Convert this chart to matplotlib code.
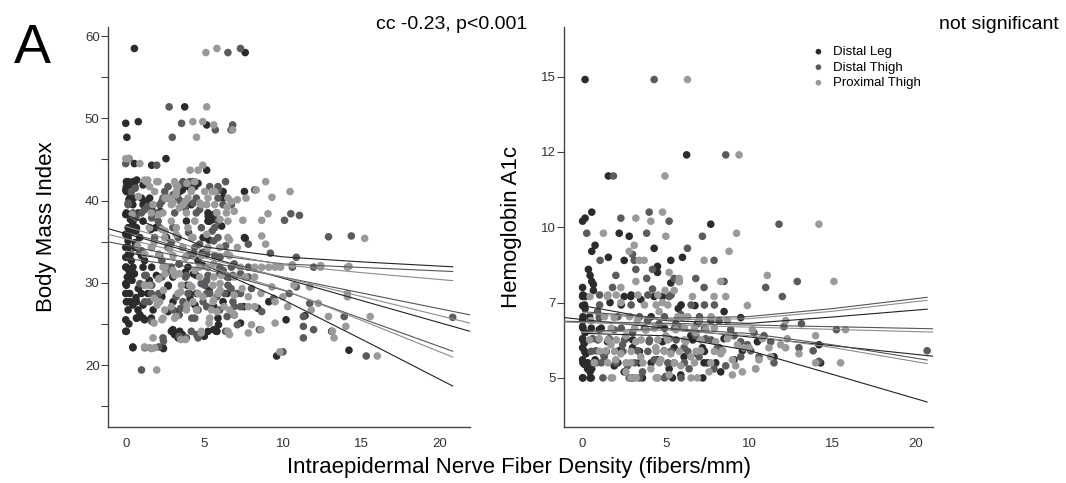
import numpy as np
import matplotlib.pyplot as plt

plt.rcParams['font.family'] = ['Liberation Sans', 'DejaVu Sans']

sites = ['Distal Leg', 'Distal Thigh', 'Proximal Thigh']
site_colors = ['#2b2b2b', '#5b5b5f', '#9a9a9a']

# ---- BMI panel (IENFD, BMI) ----
leg_ienfd_bmi = [0.55, 7.6, 3.75, 0.0, 0.8, 5.15, 0.07, 0.55, 1.65, 2.56, 5.15,
                 0.15, 0.55, 0.15, 0.0, 0.45, 0.0, 0.35, 0.45, 0.35, 0.65, 1.1, 1.3, 1.65, 1.9,
                 4.3, 4.6, 3.6, 5.25, 5.35, 5.6, 6.2, 7.55, 7.6,
                 0.0, 0.15, 0.0, 0.3, 0.0, 0.35, 0.0, 0.2, 0.55, 0.0, 0.1, 4.6, 1.2, 1.65, 3.0,
                 4.3, 6.0, 2.7, 7.55,
                 0.0, 0.3, 0.1, 0.45, 0.65, 1.0, 1.4, 2.7, 0.0, 0.2, 0.7, 1.2, 2.7, 3.0, 4.05,
                 4.5, 3.9, 6.45, 5.6, 9.1, 0.45, 2.4, 3.1, 5.0, 5.8, 5.9, 0.0, 9.6, 14.2,
                 0.2, 0.5, 0.8, 0.3, 0.6, 0.9, 0.4, 0.8, 1.1, 0.9, 1.5, 2.1, 2.3, 3.3, 3.6,
                 4.1, 5.3, 5.1, 5.3, 4.9, 6.6, 7.3, 6.9, 5.6, 2.2, 1.6, 2.6, 3.4, 3.8, 4.4,
                 4.9, 1.1, 0.7, 5.6, 6.1, 7.5, 8.4, 10.2, 13.1, 11.4,
                 0.04, 0.46, 1.1, 3.96, 0.25, 1.95, 4.49, 0.04, 2.69, 0.25, 2.27, 0.04, 0.68, 3.01,
                 6.19, 0.15, 0.78, 1.74, 0.68, 1.1, 1.63, 5.87, 0.04, 2.9, 3.43, 5.23, 5.77, 3.33,
                 0.46, 2.37,
                 0.04, 0.46, 0.04, 0.57, 3.96, 4.39, 0.04, 3.43, 6.19, 0.25, 1.0, 1.52, 1.21, 4.17,
                 0.04, 5.23, 0.46, 1.1, 3.86, 5.23, 0.15, 0.68, 0.15, 0.89, 4.92, 0.15, 0.57, 0.15,
                 1.0]
leg_bmi = [58.5, 58.0, 51.4, 49.4, 49.6, 49.2, 47.7, 44.5, 44.3, 45.1, 43.7,
           42.3, 42.3, 41.7, 41.3, 39.5, 38.3, 38.3, 37.1, 36.3, 36.3, 39.5, 39.9, 39.1, 36.7,
           42.3, 42.1, 41.3, 38.1, 37.5, 38.3, 40.3, 41.1, 35.4,
           35.9, 35.1, 34.3, 33.5, 33.1, 32.7, 31.9, 31.5, 31.1, 29.9, 30.7, 32.7, 32.7, 31.9, 30.7,
           31.1, 31.1, 34.3, 35.5,
           28.7, 27.7, 27.7, 27.3, 28.2, 28.7, 28.7, 29.6, 25.5, 25.0, 25.7, 25.5, 26.5, 24.3, 28.7,
           28.7, 29.7, 28.7, 27.1, 27.7, 22.2, 22.0, 23.7, 23.5, 24.1, 24.9, 24.1, 21.1, 21.8,
           40.1, 40.3, 38.5, 37.7, 34.9, 33.7, 30.3, 29.3, 27.3, 26.1, 30.3, 30.5, 28.3, 26.5, 23.7,
           28.1, 29.1, 35.5, 35.2, 33.7, 30.7, 25.1, 26.1, 24.3, 38.7, 36.5, 35.5, 32.3, 31.3, 27.3,
           32.1, 41.9, 42.5, 37.7, 36.9, 27.1, 26.9, 25.5, 24.1, 26.0,
           31.9, 31.9, 31.9, 31.9, 30.9, 30.9, 30.9, 29.7, 29.7, 28.7, 28.7, 27.7, 27.7, 27.7,
           27.7, 26.7, 26.7, 26.7, 25.7, 25.7, 25.7, 25.7, 24.1, 24.1, 24.1, 24.1, 24.1, 23.3,
           22.1, 22.1,
           42.3, 42.3, 41.7, 41.7, 41.7, 41.7, 41.1, 41.1, 41.1, 40.3, 40.3, 40.3, 39.5, 39.5,
           38.5, 38.5, 37.5, 37.5, 37.5, 37.5, 36.7, 36.7, 35.5, 35.5, 35.5, 34.3, 34.3, 33.3,
           33.3]

dthigh_ienfd_bmi = [7.3, 6.5, 2.76, 3.55, 5.7, 6.8, 6.7, 2.96, 0.0, 1.97,
                    0.6, 0.15, 0.65, 1.4, 1.2, 1.65, 1.97, 3.0, 2.3, 2.7, 3.6, 3.5, 3.8, 4.3,
                    5.9, 6.35, 8.2, 10.5, 11.05, 10.1,
                    1.0, 1.65, 2.3, 3.4, 4.3, 5.15, 6.0, 6.9, 7.8, 10.6, 11.95, 2.3, 3.8, 5.15,
                    6.45, 7.3, 7.8, 4.7, 5.6, 6.35, 7.8, 9.2, 10.85,
                    2.1, 1.65, 1.65, 3.4, 3.5, 5.15, 7.3, 5.15, 6.45, 6.9, 7.3, 8.65, 10.4, 10.85,
                    2.1, 2.4, 3.4, 4.5, 6.35, 1.0, 10.0, 11.3, 11.3, 11.3, 11.95, 13.9, 15.3, 20.8,
                    11.7, 12.9, 14.35,
                    2.9, 4.0, 5.5, 6.2, 8.0, 4.8, 3.2, 2.6, 1.3, 0.9, 1.5, 5.8, 6.7, 4.2, 7.1,
                    8.5, 9.4, 3.0, 4.7, 0.2,
                    2.9, 5.98, 6.72, 1.21, 3.86, 5.23, 6.82, 1.21, 5.02, 6.5, 1.63, 3.96, 5.34, 6.29,
                    7.04, 1.21, 3.64, 4.92, 6.82, 3.01, 4.6, 5.98, 4.39, 4.17, 2.37, 3.86, 4.6, 1.21,
                    3.64, 4.07, 2.69, 3.33, 5.34, 5.87, 0.36, 2.48, 2.37, 3.33, 4.49, 5.87, 0.15, 2.16,
                    6.19, 6.72, 0.46, 1.0, 3.11, 4.49, 5.77, 2.06, 5.87, 2.16, 4.81, 5.66, 1.84, 3.33,
                    5.87, 2.69, 4.39, 2.16, 3.96, 5.66]
dthigh_bmi = [58.5, 58.0, 51.4, 49.4, 48.6, 49.2, 48.6, 47.7, 44.5, 44.3,
              41.5, 39.7, 37.9, 39.3, 38.9, 37.9, 38.5, 36.7, 39.9, 40.3, 42.1, 39.9, 39.1, 39.7,
              41.3, 42.3, 41.3, 38.4, 38.2, 37.6,
              33.9, 34.3, 32.7, 32.3, 33.5, 33.5, 33.1, 32.3, 31.9, 31.9, 31.9, 30.7, 30.7, 30.3,
              30.7, 31.1, 30.7, 34.7, 35.1, 34.5, 34.7, 33.6, 33.1,
              28.7, 29.7, 25.3, 26.1, 26.9, 28.7, 28.7, 27.1, 25.9, 27.1, 27.1, 26.5, 28.7, 29.5,
              22.2, 22.9, 23.5, 23.7, 24.1, 19.4, 21.6, 25.9, 24.7, 23.3, 24.3, 25.9, 21.1, 25.8,
              27.5, 35.6, 35.7,
              34.9, 36.1, 36.3, 31.5, 29.3, 29.9, 28.3, 31.3, 30.9, 29.9, 27.7, 28.3, 29.3, 25.7, 24.9,
              24.3, 28.1, 40.7, 38.9, 45.1,
              31.9, 31.9, 31.9, 30.9, 30.9, 30.9, 30.9, 29.7, 29.7, 29.7, 28.7, 28.7, 28.7, 28.7,
              28.7, 27.7, 27.7, 27.7, 27.7, 26.7, 26.7, 26.7, 25.7, 24.1, 23.3, 23.3, 23.3, 22.1,
              42.3, 42.3, 41.7, 41.7, 41.7, 41.7, 41.1, 41.1, 40.3, 40.3, 40.3, 40.3, 39.5, 39.5,
              39.5, 39.5, 38.5, 38.5, 38.5, 38.5, 38.5, 37.5, 37.5, 36.7, 36.7, 36.7, 35.5, 35.5,
              35.5, 34.3, 34.3, 33.3, 33.3, 33.3]

pthigh_ienfd_bmi = [5.1, 5.8, 5.15, 4.27, 4.9, 5.6, 6.8, 4.5, 0.0, 0.15, 0.9, 4.1, 4.6, 4.9,
                    1.2, 1.4, 1.97, 3.2, 4.2, 2.5, 3.8, 2.3, 2.5, 3.0, 3.2, 3.3, 3.9, 3.4, 4.7,
                    5.15, 5.8, 5.5, 6.7, 7.1, 6.45, 6.9, 6.0, 7.65, 8.3, 8.9, 9.3, 9.05, 8.65,
                    7.45, 10.45, 2.1,
                    0.75, 1.2, 2.1, 2.5, 3.0, 3.8, 5.6, 6.45, 7.3, 8.2, 8.65, 9.1, 9.5, 9.85,
                    12.4, 14.1, 2.5, 3.4, 4.7, 5.6, 6.9, 8.2, 3.2, 3.6, 4.2, 5.15, 6.6, 7.1, 8.65,
                    8.9, 10.6, 12.4, 14.2, 15.2,
                    1.8, 2.4, 1.2, 2.1, 1.8, 2.3, 3.2, 3.9, 4.2, 5.6, 6.0, 6.9, 7.8, 5.8, 6.25,
                    7.8, 8.2, 9.5, 10.0, 11.7, 1.2, 1.65, 3.5, 3.8, 4.8, 6.6, 7.8, 8.0, 8.6, 9.5,
                    1.97, 9.8, 16.0, 11.8, 12.25, 12.9, 13.15, 13.25, 14.0, 14.1, 14.1, 15.55, 10.7,
                    0.4, 0.8, 1.5, 1.8, 2.8, 4.4, 5.2, 6.0, 7.4, 4.9, 3.5, 2.9, 2.0, 4.5, 6.9,
                    5.3, 7.6, 8.6, 9.3, 10.3,
                    2.37, 4.7, 5.23, 3.11, 6.08, 1.52, 3.54, 4.07, 5.55, 3.33, 4.6, 5.87, 2.16, 4.28,
                    5.55, 2.48, 3.86, 5.45, 6.61, 2.37, 3.11, 5.34, 4.81, 6.5, 1.74, 1.52, 1.84,
                    1.31, 2.06, 3.11, 4.39, 1.52, 1.84, 3.22, 4.17, 5.02, 5.66, 2.8, 3.96, 5.23, 6.5,
                    1.74, 2.9, 3.64, 4.81, 5.66, 1.63, 2.37, 3.86, 6.4, 2.9, 4.39, 6.5, 1.52, 3.22,
                    3.96, 2.48, 4.28, 6.5, 1.63, 3.64, 5.23, 5.98, 3.01, 4.81, 6.61]
pthigh_bmi = [58.0, 58.5, 51.4, 49.6, 49.6, 49.2, 48.6, 47.7, 45.1, 45.1, 44.5, 43.7, 43.7, 44.3,
              42.5, 42.5, 42.3, 41.9, 41.3, 40.3, 39.9, 36.5, 36.3, 39.7, 40.7, 41.7, 42.1, 39.1, 39.7,
              39.5, 38.5, 41.1, 39.9, 40.1, 39.2, 38.7, 37.7, 40.3, 41.3, 42.3, 40.4, 38.4, 37.6,
              37.6, 41.1, 38.3,
              34.5, 33.5, 33.5, 31.9, 31.5, 33.1, 32.3, 33.5, 31.9, 31.9, 31.9, 31.9, 31.9, 31.9,
              31.9, 31.9, 31.1, 31.1, 30.7, 30.7, 30.7, 30.7, 35.9, 34.3, 35.5, 35.9, 35.2, 34.3, 35.7,
              34.7, 32.2, 32.1, 32.0, 35.4,
              28.1, 29.1, 29.7, 30.5, 25.1, 25.5, 25.9, 27.3, 29.5, 27.9, 29.1, 28.5, 28.3, 26.5, 27.1,
              27.1, 27.1, 27.7, 28.3, 29.5, 22.2, 22.0, 23.1, 23.1, 23.9, 23.7, 23.9, 24.9, 24.3, 25.1,
              19.4, 21.6, 21.1, 26.7, 27.5, 25.9, 24.1, 23.3, 24.7, 28.7, 28.3, 25.9, 29.7,
              38.3, 40.5, 36.7, 34.9, 34.1, 31.5, 31.9, 29.9, 29.3, 28.3, 28.9, 27.1, 27.3, 26.7, 26.1,
              25.1, 30.7, 28.7, 29.5, 27.1,
              31.9, 31.9, 31.9, 30.9, 30.9, 29.7, 29.7, 29.7, 29.7, 28.7, 28.7, 28.7, 27.7, 27.7,
              27.7, 26.7, 26.7, 26.7, 26.7, 25.7, 25.7, 25.7, 24.1, 24.1, 23.3, 22.1, 22.1,
              42.3, 42.3, 42.3, 42.3, 41.7, 41.1, 41.1, 41.1, 41.1, 41.1, 40.3, 40.3, 40.3, 40.3,
              39.5, 39.5, 39.5, 39.5, 39.5, 38.5, 38.5, 38.5, 38.5, 37.5, 37.5, 37.5, 36.7, 36.7,
              36.7, 35.5, 35.5, 35.5, 34.3, 34.3, 34.3, 34.3, 33.3, 33.3, 33.3]

# ---- HbA1c panel (IENFD, HbA1c) ----
leg_ienfd_a1c = [0.15, 6.25, 1.55, 0.55, 0.0, 0.15, 2.2, 2.8, 4.3, 0.75, 0.55, 1.55, 2.5, 5.3,
                 6.0, 4.5, 4.5, 7.7, 0.35, 0.45, 0.55, 0.65, 0.0, 0.65, 0.0, 0.15, 1.65, 2.5,
                 2.9, 3.5, 4.3, 4.8, 5.8, 5.3, 5.75, 6.75, 8.5, 9.5, 0.0, 0.15,
                 0.0, 0.0, 0.15, 0.0, 0.1, 0.0, 0.2, 0.0, 0.1, 0.3, 0.0, 0.45, 0.45, 0.55, 0.75,
                 1.25, 2.2, 2.6, 3.0, 3.4, 3.6, 2.9, 4.5, 5.2, 5.9, 5.4, 6.1, 6.5, 7.2, 7.3,
                 8.0, 8.3, 9.6, 11.5, 14.2, 14.3, 6.9, 7.0, 4.8, 3.8, 1.5, 1.0, 5.5, 6.9, 1.9,
                 2.5, 8.5,
                 0.02, 0.52, 3.02, 7.22, 0.02, 0.32, 2.12, 4.12, 7.52, 0.12, 1.42, 3.42, 7.32, 0.02,
                 3.02, 6.62, 0.02, 0.52, 1.12, 4.92, 0.02, 0.42, 4.12, 0.12, 2.32, 5.92, 0.02, 2.92,
                 8.2, 9.1, 10.5]
leg_a1c = [14.9, 12.4, 11.7, 10.5, 10.2, 10.3, 9.8, 9.7, 9.3, 9.4, 9.2, 9.0, 8.9, 8.9,
           9.0, 8.7, 8.5, 10.1, 8.6, 8.4, 8.2, 8.1, 8.0, 7.9, 7.7, 7.7, 7.5, 7.7,
           7.7, 7.6, 7.7, 7.7, 8.2, 8.15, 7.3, 7.4, 7.2, 7.0, 7.4, 7.3,
           6.9, 6.7, 6.5, 6.3, 6.15, 6.0, 5.8, 5.6, 5.45, 5.3, 5.0, 5.0, 5.2, 5.3, 5.6,
           5.8, 5.9, 6.3, 6.0, 5.5, 5.0, 5.0, 5.6, 5.3, 5.1, 5.0, 5.7, 6.4, 6.0, 5.5,
           5.5, 5.2, 5.9, 5.7, 6.1, 5.5, 6.8, 6.9, 6.2, 6.6, 6.2, 6.6, 6.0, 5.8, 5.4,
           5.2, 6.3,
           5.0, 5.0, 5.0, 5.0, 5.5, 5.5, 5.5, 5.5, 5.5, 5.88, 5.88, 5.88, 5.88, 6.26,
           6.26, 6.26, 6.65, 6.65, 6.65, 6.65, 7.03, 7.03, 7.03, 7.42, 7.42, 7.42, 7.75, 7.75,
           6.0, 5.6, 6.2]

dthigh_ienfd_a1c = [4.3, 8.6, 1.85, 4.0, 2.3, 5.2, 11.8, 0.25, 3.85, 7.2, 6.3, 1.05, 3.1, 3.0,
                    4.2, 7.9, 3.2, 2.0, 1.8, 6.8, 8.5, 11.0, 12.9, 3.85, 4.2, 5.5, 5.2, 7.3,
                    12.0, 0.9, 13.15, 15.25, 20.7, 10.6, 11.5, 14.2, 13.85, 11.3, 13.0,
                    1.3, 1.6, 2.0, 2.4, 2.7, 3.0, 3.3, 3.6, 4.0, 4.3, 4.6, 4.9, 5.2, 5.5, 5.8,
                    6.1, 6.4, 6.7, 7.0, 7.4, 7.7, 8.1, 8.6, 9.1, 9.9, 10.3, 2.8, 4.5, 5.0, 0.6,
                    0.8, 1.0, 5.9, 6.8, 3.9, 1.9, 7.9, 9.5, 5.6,
                    1.22, 3.42, 4.92, 5.92, 0.82, 1.12, 3.12, 5.12, 6.12, 0.52, 2.42, 3.92, 5.32, 6.32,
                    0.92, 2.52, 4.02, 5.62, 7.72, 2.32, 3.72, 5.52, 7.32, 2.12, 3.42, 4.92, 7.02, 1.02,
                    2.92, 6.52, 7.32, 7.92, 1.02, 3.92, 5.32,
                    8.4, 8.9, 9.5, 10.1, 10.9, 12.1, 8.2]
dthigh_a1c = [14.9, 12.4, 11.7, 10.5, 10.3, 10.2, 10.1, 9.8, 9.8, 9.7, 9.3, 8.9, 8.9, 9.1,
              8.6, 8.9, 8.6, 8.4, 8.0, 8.3, 8.2, 8.0, 8.2, 8.3, 7.95, 8.3, 7.7, 8.0,
              7.7, 7.2, 6.8, 6.6, 5.9, 5.7, 5.5, 5.55, 5.9, 6.2, 6.0,
              5.7, 6.3, 5.5, 6.1, 5.4, 6.5, 5.9, 5.2, 6.2, 5.6, 6.8, 5.9, 6.3, 5.5, 6.7,
              6.0, 5.3, 6.5, 5.7, 6.3, 6.9, 6.0, 5.4, 6.4, 6.1, 6.5, 5.0, 5.0, 5.05, 6.3,
              5.9, 7.0, 7.1, 6.4, 6.9, 6.6, 5.3, 5.7, 6.8,
              5.0, 5.0, 5.0, 5.0, 5.5, 5.5, 5.5, 5.5, 5.5, 5.88, 5.88, 5.88, 5.88, 5.88,
              6.26, 6.26, 6.26, 6.26, 6.26, 6.65, 6.65, 6.65, 6.65, 7.03, 7.03, 7.03, 7.03, 7.42,
              7.42, 7.42, 7.42, 7.42, 7.75, 7.75, 7.75,
              5.9, 6.6, 6.2, 5.9, 6.4, 6.7, 6.9]

pthigh_ienfd_a1c = [6.3, 9.4, 4.95, 4.8, 3.2, 4.1, 1.25, 5.0, 9.25, 14.2, 3.1, 2.8, 3.4, 3.7,
                    8.8, 7.3, 5.2, 5.8, 5.8, 3.2, 5.5, 4.95, 8.3, 11.1, 15.1, 2.3, 1.5, 2.3,
                    0.45, 7.9, 8.6, 9.9, 4.8, 6.6, 12.2, 15.8, 14.0, 15.5, 11.9,
                    1.8, 2.9, 3.1, 4.5, 6.9, 1.0, 1.4, 1.7, 2.0, 2.3, 2.6, 2.9, 3.2, 3.5, 3.8,
                    4.1, 4.4, 4.7, 5.0, 5.3, 5.6, 5.9, 6.2, 6.5, 6.8, 7.1, 7.4, 7.7, 8.0, 8.4,
                    8.7, 9.0, 9.3, 9.6, 10.0, 10.4, 10.8, 11.3, 12.2, 13.0, 14.0, 0.5, 1.9, 3.3,
                    4.6, 6.0, 7.0, 8.7, 2.6, 5.2, 7.6, 0.7,
                    1.72, 3.22, 4.42, 6.52, 1.52, 2.62, 3.62, 4.62, 5.52, 6.72, 1.02, 1.92, 2.92, 4.42,
                    4.92, 5.82, 6.82, 7.92, 0.42, 1.52, 2.02, 3.52, 4.52, 5.12, 6.12, 7.12, 1.72, 3.12,
                    4.32, 6.12, 6.72, 7.92, 1.32, 2.82, 5.72, 6.32, 7.72, 3.72, 4.42, 5.12, 1.52, 2.02,
                    3.32, 4.52,
                    8.3, 8.8, 9.2, 9.7, 10.2, 10.6, 11.2, 12.3, 9.0, 10.4]
pthigh_a1c = [14.9, 12.4, 11.7, 10.5, 10.3, 10.2, 9.8, 9.7, 9.8, 10.1, 9.4, 9.2, 8.9, 8.9,
              9.2, 8.9, 8.5, 8.3, 8.2, 8.2, 7.9, 7.9, 8.2, 8.4, 8.2, 8.0, 7.7, 7.5,
              7.7, 7.7, 7.7, 7.4, 7.5, 7.7, 6.9, 6.6, 6.4, 5.5, 6.1,
              5.0, 5.0, 5.0, 5.0, 5.0, 6.3, 5.9, 6.1, 5.6, 5.8, 6.4, 5.5, 6.2, 5.7, 6.6,
              5.3, 6.0, 5.6, 6.4, 5.8, 6.6, 5.4, 6.2, 5.7, 6.5, 5.9, 6.6, 5.5, 6.2, 5.9,
              6.3, 5.6, 6.1, 5.2, 6.0, 5.3, 6.3, 5.7, 6.0, 5.8, 5.5, 6.9, 7.0, 6.9,
              7.2, 7.0, 6.9, 6.9, 5.2, 5.1, 5.2, 5.5,
              5.0, 5.0, 5.0, 5.0, 5.5, 5.5, 5.5, 5.5, 5.5, 5.5, 5.88, 5.88, 5.88, 5.88,
              5.88, 5.88, 5.88, 5.88, 6.26, 6.26, 6.26, 6.26, 6.26, 6.26, 6.26, 6.26, 6.65, 6.65,
              6.65, 6.65, 6.65, 6.65, 7.03, 7.03, 7.03, 7.03, 7.03, 7.42, 7.42, 7.42, 7.75, 7.75,
              7.75, 7.75,
              5.8, 6.4, 5.4, 6.0, 6.6, 5.6, 6.0, 6.3, 5.1, 5.3]

# ---- fit lines (value at axis ends) and 95% CI half widths ----
bmi_fit_x = [-1.14, 21.9]
bmi_fit = {'Distal Leg': [36.6, 24.1], 'Distal Thigh': [35.0, 26.1], 'Proximal Thigh': [35.9, 25.1]}
bmi_ci_x = [0, 5, 10, 15, 20.8]
bmi_ci_hw = {'Distal Leg': [2.3, 1.1, 2.6, 4.7, 7.25],
             'Distal Thigh': [1.6, 0.9, 1.6, 3.1, 4.85],
             'Proximal Thigh': [1.5, 0.9, 1.5, 2.9, 4.65]}

a1c_fit_x = [-1.09, 21.05]
a1c_fit = {'Distal Leg': [7.0, 5.72], 'Distal Thigh': [6.88, 6.63], 'Proximal Thigh': [6.85, 6.52]}
a1c_ci_x = [0, 5, 10, 15, 20.7]
a1c_ci_hw = {'Distal Leg': [0.46, 0.25, 0.45, 0.95, 1.54],
             'Distal Thigh': [0.33, 0.17, 0.28, 0.6, 1.04],
             'Proximal Thigh': [0.33, 0.17, 0.28, 0.6, 1.05]}

fig = plt.figure(figsize=(10.66, 4.83), dpi=100)
ax1 = fig.add_axes([0.1013, 0.1159, 0.3396, 0.828])
ax2 = fig.add_axes([0.5295, 0.1159, 0.3457, 0.828])

bmi_pts = [(leg_ienfd_bmi, leg_bmi), (dthigh_ienfd_bmi, dthigh_bmi), (pthigh_ienfd_bmi, pthigh_bmi)]
a1c_pts = [(leg_ienfd_a1c, leg_a1c), (dthigh_ienfd_a1c, dthigh_a1c), (pthigh_ienfd_a1c, pthigh_a1c)]
line_colors = ['#222222', '#555555', '#8c8c8c']


def draw(ax, pts, fit_x, fit, ci_x, ci_hw):
    for (x, y), name, c in zip(pts, sites, site_colors):
        ax.scatter(x, y, s=30, color=c, edgecolors='none', zorder=2, label=name)
    for name, lc in zip(sites, line_colors):
        y0, y1 = fit[name]
        ax.plot(fit_x, fit[name], color=lc, lw=0.8, zorder=3)
        slope = (y1 - y0) / (fit_x[1] - fit_x[0])
        f = y0 + slope * (np.array(ci_x) - fit_x[0])
        hw = np.array(ci_hw[name])
        ax.plot(ci_x, f + hw, color=lc, lw=0.8, zorder=3)
        ax.plot(ci_x, f - hw, color=lc, lw=0.8, zorder=3)
    for s in ['top', 'right']:
        ax.spines[s].set_visible(False)
    for s in ['left', 'bottom']:
        ax.spines[s].set_color('#444444')
        ax.spines[s].set_linewidth(1.0)
    ax.set_xticks([0, 5, 10, 15, 20])
    ax.tick_params(axis='x', length=0, pad=8, labelsize=9.5, labelcolor='#333333')
    ax.tick_params(axis='y', which='both', length=5, width=0.8, color='#444444', pad=1,
                   labelsize=9.5, labelcolor='#333333')


draw(ax1, bmi_pts, bmi_fit_x, bmi_fit, bmi_ci_x, bmi_ci_hw)
ax1.set_xlim(-1.13, 21.9)
ax1.set_ylim(12.46, 61.1)
ax1.set_yticks([20, 30, 40, 50, 60])
ax1.set_yticks([15, 25, 35, 45, 55], minor=True)
ax1.set_ylabel('Body Mass Index', fontsize=16, labelpad=20)

draw(ax2, a1c_pts, a1c_fit_x, a1c_fit, a1c_ci_x, a1c_ci_hw)
ax2.set_xlim(-1.09, 21.05)
ax2.set_ylim(3.37, 16.64)
ax2.set_yticks([5, 7.5, 10, 12.5, 15])
ax2.set_yticklabels(['5', '7', '10', '12', '15'])
ax2.set_ylabel('Hemoglobin A1c', fontsize=16, labelpad=14)

handles, labels = ax2.get_legend_handles_labels()
fig.legend(handles, labels, loc='upper left', bbox_to_anchor=(0.7628, 0.905),
           bbox_transform=fig.transFigure, frameon=False, fontsize=9.5, markerscale=0.75,
           handlelength=0.8, handletextpad=0.7, labelspacing=0.25, borderpad=0, borderaxespad=0)

fig.text(0.013, 0.8696, 'A', fontsize=40, va='baseline', ha='left')
fig.text(0.4944, 0.939, 'cc -0.23, p<0.001', fontsize=14, ha='right', va='baseline')
fig.text(0.993, 0.939, 'not significant', fontsize=14, ha='right', va='baseline')
fig.text(0.487, 0.021, 'Intraepidermal Nerve Fiber Density (fibers/mm)', fontsize=16,
         ha='center', va='baseline')

fig.savefig('out.png', dpi=100)
